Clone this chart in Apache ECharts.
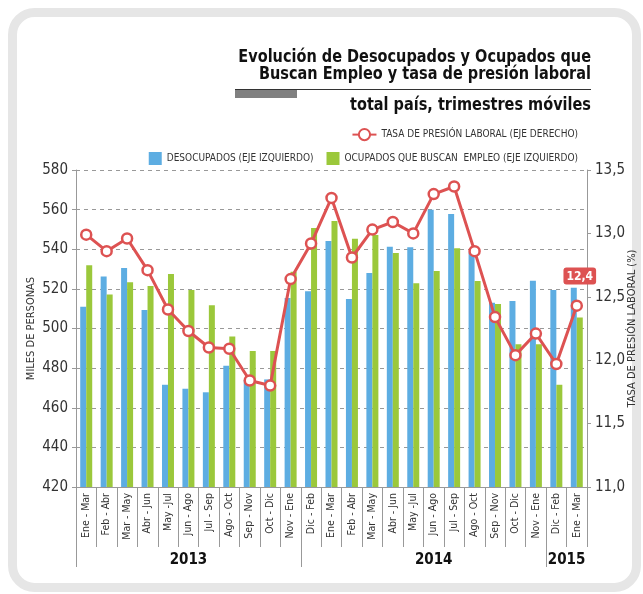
<!DOCTYPE html>
<html>
<head>
<meta charset="utf-8">
<script src="https://cdn.jsdelivr.net/npm/echarts@6/dist/echarts.min.js"></script>
<style>
  html, body { margin: 0; padding: 0; background: #fff; }
  #c1 { width: 643px; height: 594px; }
</style>
</head>
<body>
<div id="c1"></div>
<script>
var categories = [
  "Ene - Mar", "Feb - Abr", "Mar - May", "Abr - Jun", "May -Jul", "Jun - Ago",
  "Jul - Sep", "Ago - Oct", "Sep - Nov", "Oct - Dic", "Nov - Ene", "Dic - Feb",
  "Ene - Mar", "Feb - Abr", "Mar - May", "Abr - Jun", "May -Jul", "Jun - Ago",
  "Jul - Sep", "Ago - Oct", "Sep - Nov", "Oct - Dic", "Nov - Ene", "Dic - Feb",
  "Ene - Mar"
];
// miles de personas (eje izquierdo)
var desocupados = [
  511, 526.3, 530.5, 509.3, 471.6, 469.6, 467.8, 481.2, 474, 474.3, 515.4, 518.8,
  544.2, 514.9, 528, 541.3, 541, 560, 557.8, 538.5, 513, 513.9, 524.1, 519.4, 520.6
];
var ocupadosBuscan = [
  531.9, 517.2, 523.3, 521.4, 527.5, 519.4, 511.7, 496, 488.6, 488.6, 528.7, 550.7,
  554.3, 545.3, 547.2, 538.1, 522.8, 529, 540.5, 524, 512.4, 492, 492, 471.6, 505.6
];
// tasa de presión laboral % (eje derecho)
var tasa = [
  12.99, 12.86, 12.96, 12.71, 12.40, 12.23, 12.10, 12.09, 11.84, 11.80, 12.64, 12.92,
  13.28, 12.81, 13.03, 13.09, 13.00, 13.31, 13.37, 12.86, 12.34, 12.04, 12.21, 11.97, 12.43
];
var years = ["2013", "2014", "2015"];
var yearStarts = [0, 11, 23];
var yearMids = [5.5, 17.5, 24];

var FONT = "'DejaVu Sans Condensed', 'Liberation Sans Narrow', sans-serif";
var RED = "#dd5252";
var BLUE = "#5dade2";
var GREEN = "#9bc83b";

var chartDom = document.getElementById("c1");
var myChart = echarts.init(chartDom, null, { renderer: "canvas" });

var tasaData = tasa.map(function (v, i) {
  if (i === tasa.length - 1) {
    return {
      value: v,
      label: {
        show: true,
        position: "top",
        distance: 15,
        offset: [3, 0],
        formatter: function (p) { return p.value.toFixed(1).replace(".", ","); },
        backgroundColor: RED,
        color: "#fff",
        fontWeight: "bold",
        fontSize: 12,
        fontFamily: FONT,
        padding: [3, 3, 2, 3],
        borderRadius: 3
      }
    };
  }
  return v;
});

// titulo con texto comprimido horizontalmente
function titleLine(txt, y) {
  return {
    type: "text", x: 591, y: y, scaleX: 0.895,
    style: { text: txt, textAlign: "right", textVerticalAlign: "middle",
      font: "bold 18px " + FONT, fill: "#111" }
  };
}

var option = {
  animation: false,
  textStyle: { fontFamily: FONT },
  graphic: [
    {
      type: "rect",
      shape: { x: 12.5, y: 12.5, width: 624, height: 575, r: 22 },
      style: { fill: "none", stroke: "#e6e6e6", lineWidth: 9 },
      silent: true
    },
    titleLine("Evolución de Desocupados y Ocupados que", 57),
    titleLine("Buscan Empleo y tasa de presión laboral", 74),
    {
      type: "line",
      shape: { x1: 235, y1: 89.5, x2: 591, y2: 89.5 },
      style: { stroke: "#333", lineWidth: 1 }
    },
    {
      type: "rect",
      shape: { x: 235, y: 90, width: 62, height: 8 },
      style: { fill: "#808080" }
    },
    titleLine("total país, trimestres móviles", 105)
  ],
  legend: [
    {
      data: ["TASA DE PRESIÓN LABORAL (EJE DERECHO)"],
      right: 60,
      top: 123,
      itemWidth: 24,
      itemHeight: 14,
      itemGap: 8,
      textStyle: { fontSize: 10, color: "#333", fontFamily: FONT }
    },
    {
      data: ["DESOCUPADOS (EJE IZQUIERDO)", "OCUPADOS QUE BUSCAN  EMPLEO (EJE IZQUIERDO)"],
      right: 60,
      top: 147,
      icon: "rect",
      itemWidth: 13,
      itemHeight: 13,
      itemGap: 13,
      textStyle: { fontSize: 10, color: "#333", fontFamily: FONT }
    }
  ],
  grid: { left: 76, right: 56, top: 170, bottom: 107, outerBoundsMode: "none" },
  xAxis: [
    {
      type: "category",
      data: categories,
      axisLine: { lineStyle: { color: "#999" } },
      axisTick: { show: true, interval: 0, length: 60, lineStyle: { color: "#999" } },
      axisLabel: { interval: 0, rotate: 90, fontSize: 10.5, color: "#333", margin: 6, fontFamily: FONT }
    },
    {
      type: "value",
      position: "bottom",
      offset: 60,
      min: 0,
      max: 25,
      axisLine: { show: false },
      splitLine: { show: false },
      axisTick: { show: true, customValues: yearStarts, length: 20, lineStyle: { color: "#999" } },
      axisLabel: {
        customValues: yearMids,
        margin: 6,
        fontSize: 15,
        fontWeight: "bold",
        color: "#111",
        fontFamily: FONT,
        formatter: function (v) { return years[yearMids.indexOf(v)]; }
      }
    }
  ],
  yAxis: [
    {
      type: "value",
      min: 420,
      max: 580,
      interval: 20,
      name: "MILES DE PERSONAS",
      nameLocation: "middle",
      nameGap: 39,
      nameMoveOverlap: false,
      nameTextStyle: { fontSize: 11, color: "#333", fontFamily: FONT },
      axisLine: { show: true, lineStyle: { color: "#999" } },
      axisTick: { show: true, length: 4, lineStyle: { color: "#999" } },
      axisLabel: { fontSize: 15, color: "#333", margin: 8, fontFamily: FONT },
      splitLine: { show: true, lineStyle: { color: "#999", type: [4, 4] } }
    },
    {
      type: "value",
      min: 11,
      max: 13.5,
      interval: 0.5,
      position: "right",
      name: "TASA DE PRESIÓN LABORAL (%)",
      nameLocation: "middle",
      nameGap: 40,
      nameRotate: 90,
      nameMoveOverlap: false,
      nameTextStyle: { fontSize: 11, color: "#333", fontFamily: FONT },
      axisLine: { show: true, lineStyle: { color: "#999" } },
      axisTick: { show: true, length: 4, lineStyle: { color: "#999" } },
      axisLabel: {
        fontSize: 15, color: "#333", margin: 8, fontFamily: FONT,
        formatter: function (v) { return v.toFixed(1).replace(".", ","); }
      },
      splitLine: { show: false }
    }
  ],
  series: [
    {
      name: "DESOCUPADOS (EJE IZQUIERDO)",
      type: "bar",
      xAxisIndex: 0,
      yAxisIndex: 0,
      data: desocupados,
      barWidth: 6,
      barGap: "0%",
      itemStyle: { color: BLUE }
    },
    {
      name: "OCUPADOS QUE BUSCAN  EMPLEO (EJE IZQUIERDO)",
      type: "bar",
      xAxisIndex: 0,
      yAxisIndex: 0,
      data: ocupadosBuscan,
      barWidth: 6,
      barGap: "0%",
      itemStyle: { color: GREEN }
    },
    {
      name: "TASA DE PRESIÓN LABORAL (EJE DERECHO)",
      type: "line",
      xAxisIndex: 0,
      yAxisIndex: 1,
      data: tasaData,
      symbol: "circle",
      symbolSize: 10,
      lineStyle: { color: RED, width: 3 },
      itemStyle: { color: "#fff", borderColor: RED, borderWidth: 2.5 },
      z: 5
    }
  ]
};

myChart.setOption(option);
window.addEventListener("resize", function () {
  myChart.resize();
});
</script>
</body>
</html>
